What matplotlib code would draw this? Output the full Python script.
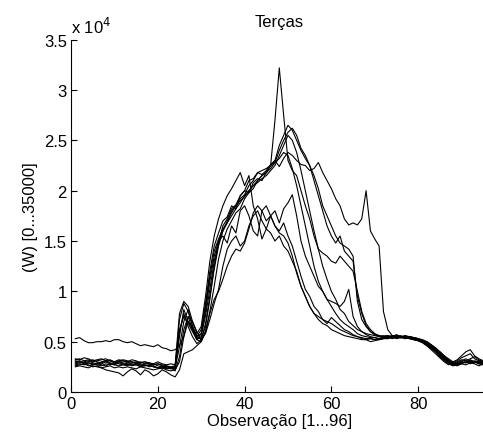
import matplotlib
matplotlib.use("Agg")
import matplotlib.pyplot as plt
import numpy as np

# consumo (W) em unidades de 1e4, 96 observacoes por dia
obs = np.arange(1, 97)

s1 = [0.53,0.54,0.51,0.49,0.49,0.50,0.50,0.51,0.50,0.52,0.52,0.50,
      0.49,0.50,0.48,0.46,0.47,0.46,0.45,0.47,0.44,0.43,0.41,0.42,
      0.46,0.55,0.70,0.65,0.55,0.52,0.58,0.72,0.88,1.02,1.25,1.42,
      1.50,1.55,1.45,1.50,1.65,1.75,1.80,1.70,1.62,1.58,1.50,1.55,
      1.45,1.40,1.30,1.20,1.05,0.95,0.85,0.78,0.75,0.72,0.70,0.68,
      0.65,0.62,0.60,0.58,0.56,0.55,0.54,0.53,0.53,0.52,0.52,0.53,
      0.53,0.54,0.55,0.54,0.55,0.54,0.53,0.52,0.50,0.48,0.45,0.42,
      0.38,0.35,0.31,0.29,0.28,0.29,0.30,0.31,0.30,0.29,0.30,0.28]
s2 = [0.31,0.30,0.29,0.27,0.25,0.26,0.24,0.22,0.21,0.20,0.19,0.16,
      0.20,0.23,0.21,0.17,0.22,0.20,0.16,0.18,0.22,0.20,0.17,0.15,
      0.22,0.38,0.40,0.42,0.46,0.50,0.60,0.78,0.92,1.00,1.12,1.25,
      1.35,1.42,1.40,1.48,1.62,1.78,1.85,1.80,1.70,1.75,1.65,1.60,
      1.68,1.55,1.45,1.30,1.15,1.02,0.95,0.85,0.80,0.72,0.68,0.74,
      0.70,0.66,0.62,0.60,0.57,0.55,0.53,0.52,0.50,0.51,0.52,0.53,
      0.54,0.55,0.54,0.55,0.54,0.53,0.52,0.51,0.50,0.47,0.45,0.42,
      0.38,0.34,0.31,0.29,0.27,0.28,0.30,0.29,0.31,0.30,0.28,0.27]
s3 = [0.28,0.29,0.30,0.31,0.29,0.28,0.30,0.31,0.29,0.28,0.30,0.29,
      0.28,0.27,0.28,0.27,0.26,0.27,0.25,0.24,0.25,0.23,0.24,0.25,
      0.55,0.82,0.70,0.62,0.55,0.62,0.88,1.20,1.45,1.58,1.70,1.74,
      1.85,1.82,1.95,2.00,1.98,2.08,2.12,2.10,2.18,2.25,2.70,3.22,
      2.75,2.30,2.20,2.15,2.00,1.85,1.72,1.55,1.42,1.25,1.12,1.00,
      0.92,0.82,0.78,0.70,0.66,0.62,0.60,0.58,0.57,0.56,0.55,0.56,
      0.55,0.54,0.56,0.55,0.53,0.54,0.52,0.51,0.49,0.46,0.43,0.40,
      0.36,0.32,0.29,0.27,0.28,0.30,0.29,0.32,0.30,0.28,0.29,0.27]
s4 = [0.33,0.32,0.34,0.33,0.31,0.32,0.33,0.31,0.32,0.30,0.31,0.32,
      0.31,0.30,0.29,0.30,0.28,0.29,0.27,0.28,0.27,0.26,0.25,0.26,
      0.62,0.75,0.68,0.60,0.52,0.58,0.85,1.15,1.40,1.52,1.62,1.68,
      1.80,1.85,1.92,1.96,2.05,2.10,2.18,2.16,2.20,2.26,2.30,2.24,
      2.32,2.38,2.35,2.30,2.26,2.25,2.20,2.22,2.28,2.18,2.10,2.02,
      1.92,1.85,1.72,1.66,1.68,1.66,1.72,2.00,1.60,1.52,1.45,0.80,
      0.62,0.56,0.55,0.54,0.56,0.55,0.54,0.53,0.51,0.49,0.46,0.43,
      0.40,0.36,0.33,0.30,0.32,0.36,0.40,0.42,0.36,0.33,0.31,0.30]
s5 = [0.27,0.28,0.27,0.29,0.28,0.27,0.26,0.28,0.27,0.29,0.28,0.27,
      0.26,0.28,0.27,0.26,0.27,0.25,0.26,0.24,0.25,0.24,0.23,0.24,
      0.45,0.70,0.82,0.66,0.52,0.55,0.76,1.02,1.30,1.48,1.65,1.72,
      1.82,1.86,1.95,2.00,2.10,2.12,2.18,2.20,2.22,2.25,2.30,2.45,
      2.55,2.65,2.60,2.50,2.40,2.32,2.25,2.15,2.02,1.85,1.75,1.65,
      1.55,1.48,1.45,1.42,1.35,0.90,0.72,0.65,0.60,0.57,0.55,0.54,
      0.55,0.56,0.55,0.54,0.55,0.54,0.53,0.52,0.51,0.48,0.44,0.40,
      0.35,0.31,0.28,0.26,0.27,0.29,0.30,0.28,0.30,0.29,0.27,0.28]
s6 = [0.30,0.31,0.29,0.30,0.32,0.30,0.29,0.30,0.31,0.29,0.30,0.31,
      0.29,0.30,0.28,0.29,0.30,0.28,0.27,0.28,0.26,0.25,0.24,0.23,
      0.60,0.78,0.65,0.55,0.48,0.52,0.68,0.95,1.22,1.45,1.60,1.70,
      1.78,1.85,1.90,1.94,2.00,2.05,2.10,2.15,2.18,2.22,2.28,2.40,
      2.50,2.58,2.62,2.55,2.42,2.35,2.25,2.10,1.95,1.80,1.65,1.55,
      1.48,1.55,1.40,1.35,1.30,0.95,0.78,0.66,0.60,0.57,0.56,0.55,
      0.56,0.54,0.55,0.56,0.54,0.55,0.54,0.53,0.52,0.50,0.47,0.43,
      0.39,0.34,0.30,0.28,0.29,0.31,0.33,0.30,0.29,0.31,0.30,0.29]
s7 = [0.25,0.26,0.25,0.24,0.26,0.25,0.24,0.25,0.26,0.24,0.25,0.24,
      0.25,0.24,0.23,0.25,0.24,0.23,0.22,0.23,0.24,0.22,0.21,0.22,
      0.30,0.55,0.75,0.62,0.52,0.50,0.60,0.80,1.05,1.32,1.50,1.62,
      1.70,1.78,1.82,1.92,1.98,2.02,2.10,2.15,2.18,2.25,2.28,2.32,
      2.38,2.35,2.22,2.05,1.85,1.65,1.45,1.25,1.10,1.00,0.92,0.85,
      0.78,0.72,0.68,0.65,0.62,0.58,0.56,0.55,0.54,0.54,0.53,0.54,
      0.55,0.53,0.54,0.55,0.56,0.54,0.53,0.51,0.50,0.47,0.44,0.41,
      0.37,0.33,0.30,0.27,0.26,0.28,0.27,0.29,0.28,0.26,0.28,0.29]
s8 = [0.29,0.30,0.28,0.29,0.27,0.29,0.28,0.30,0.28,0.27,0.29,0.28,
      0.27,0.29,0.30,0.28,0.27,0.26,0.28,0.26,0.25,0.26,0.24,0.25,
      0.72,0.88,0.80,0.65,0.55,0.58,0.80,1.10,1.35,1.50,1.55,1.48,
      1.65,1.58,1.80,1.85,1.75,1.60,1.55,1.80,1.85,1.75,1.80,1.68,
      1.82,1.88,1.96,1.75,1.50,1.35,1.25,1.15,1.05,1.00,0.92,0.90,
      0.88,0.85,0.90,1.02,0.75,0.65,0.60,0.57,0.55,0.54,0.53,0.54,
      0.53,0.55,0.56,0.54,0.53,0.55,0.54,0.52,0.51,0.49,0.45,0.42,
      0.38,0.33,0.29,0.28,0.30,0.32,0.31,0.33,0.35,0.32,0.30,0.31]
s9 = [0.32,0.33,0.31,0.32,0.30,0.31,0.32,0.33,0.31,0.30,0.32,0.31,
      0.30,0.32,0.31,0.29,0.30,0.29,0.28,0.30,0.28,0.27,0.28,0.27,
      0.78,0.90,0.85,0.70,0.58,0.65,0.95,1.30,1.55,1.72,1.85,1.95,
      2.02,2.10,2.18,2.05,2.15,1.85,1.72,1.52,1.62,1.75,1.65,1.58,
      1.55,1.48,1.35,1.18,1.05,0.95,0.85,0.78,0.72,0.68,0.66,0.62,
      0.60,0.58,0.56,0.55,0.54,0.53,0.52,0.52,0.53,0.52,0.53,0.54,
      0.54,0.55,0.53,0.54,0.55,0.53,0.52,0.51,0.49,0.46,0.42,0.38,
      0.34,0.30,0.27,0.29,0.31,0.34,0.36,0.38,0.33,0.31,0.29,0.30]
s10 = [0.26,0.27,0.28,0.26,0.27,0.28,0.27,0.26,0.28,0.27,0.26,0.27,
       0.28,0.26,0.27,0.25,0.26,0.27,0.25,0.24,0.23,0.25,0.24,0.21,
       0.35,0.62,0.75,0.70,0.60,0.52,0.65,0.92,1.25,1.48,1.60,1.68,
       1.75,1.82,1.88,1.95,2.00,2.05,2.08,2.12,2.15,2.20,2.25,2.35,
       2.45,2.55,2.50,2.38,2.20,2.00,1.80,1.60,1.42,1.38,1.35,1.30,
       1.28,1.35,1.30,1.25,1.20,1.00,0.80,0.68,0.62,0.58,0.56,0.55,
       0.56,0.55,0.57,0.55,0.54,0.53,0.54,0.53,0.51,0.50,0.47,0.44,
       0.40,0.36,0.32,0.29,0.28,0.30,0.29,0.31,0.30,0.28,0.27,0.29]

series = [s1, s2, s3, s4, s5, s6, s7, s8, s9, s10]

plt.rcParams['font.family'] = ['Liberation Sans', 'DejaVu Sans']
plt.rcParams['font.size'] = 12

fig = plt.figure(figsize=(4.83, 4.39), dpi=100)
ax = fig.add_axes([71/483, 46/439, 416.6/483, 352.3/439])

for s in series:
    ax.plot(obs, s, color='black', linewidth=0.8)

ax.set_xlim(0, 96)
ax.set_ylim(0, 3.5)
ax.set_xticks([0, 20, 40, 60, 80])
ax.set_yticks([0, 0.5, 1, 1.5, 2, 2.5, 3, 3.5])
ax.set_yticklabels(['0', '0.5', '1', '1.5', '2', '2.5', '3', '3.5'])
ax.tick_params(direction='in', length=4, width=0.8, pad=3)
ax.spines['top'].set_visible(False)
ax.spines['right'].set_visible(False)

ax.set_title('Terças', fontsize=12, pad=10)
ax.set_xlabel('Observação [1...96]', labelpad=1)
ax.set_ylabel('(W) [0...35000]', labelpad=4)
ax.text(0, 1.01, r'x 10$^4$', transform=ax.transAxes, ha='left', va='bottom')

fig.savefig('out.png', dpi=100)
